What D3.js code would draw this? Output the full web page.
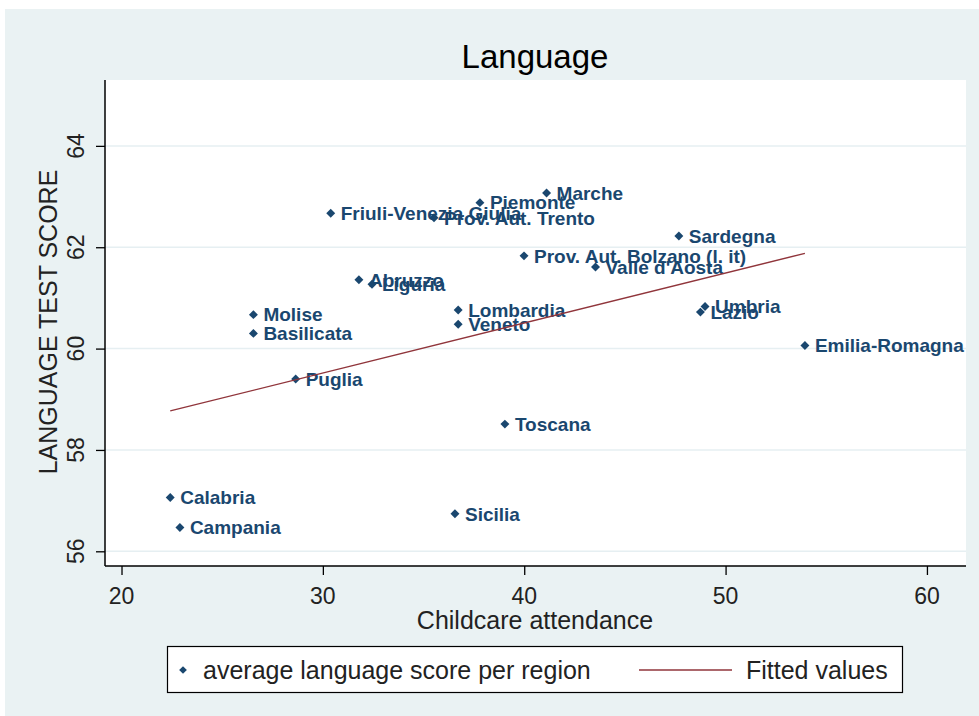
<!DOCTYPE html>
<html lang="en">
<head>
<meta charset="utf-8">
<script src="https://d3js.org/d3.v7.min.js"></script>
<style>
  body { margin: 0; background: #ffffff; }
  text { font-family: "Liberation Sans", Arial, sans-serif; }
</style>
</head>
<body>
<script>
// data
var regions = ["Piemonte", "Valle d'Aosta", "Lombardia", "Prov. Aut. Bolzano (l. it)", "Prov. Aut. Trento",
  "Veneto", "Friuli-Venezia Giulia", "Liguria", "Emilia-Romagna", "Toscana", "Umbria", "Marche",
  "Lazio", "Abruzzo", "Molise", "Campania", "Puglia", "Basilicata", "Calabria", "Sicilia", "Sardegna"];
var childcare = [37.80, 43.54, 36.72, 39.99, 35.52, 36.72, 30.39, 32.44, 53.94, 39.04, 48.98, 41.11,
  48.75, 31.79, 26.55, 22.90, 28.65, 26.55, 22.42, 36.56, 47.68];
var langScore = [62.88, 61.61, 60.76, 61.83, 62.58, 60.48, 62.67, 61.27, 60.06, 58.51, 60.83, 63.07,
  60.72, 61.36, 60.67, 56.47, 59.40, 60.30, 57.06, 56.74, 62.22];
// fitted values line (end points)
var fitX = [22.42, 53.94];
var fitY = [58.77, 61.88];
var xTicks = [20, 30, 40, 50, 60];
var yTicks = [56, 58, 60, 62, 64];

const W = 979, H = 716;
const navy = "#1a476f", maroon = "#90353b";
const plot = {left: 105, right: 966, top: 80, bottom: 566};

const svg = d3.select("body").append("svg")
  .attr("width", W).attr("height", H);

// outer background
svg.append("rect").attr("x", 5).attr("y", 9).attr("width", W - 5).attr("height", H - 9)
  .attr("fill", "#eaf2f3");
svg.append("rect").attr("x", plot.left).attr("y", plot.top)
  .attr("width", plot.right - plot.left).attr("height", plot.bottom - plot.top)
  .attr("fill", "#ffffff");

const x = d3.scaleLinear().domain([19.18, 61.94]).range([plot.left, plot.right]);
const y = d3.scaleLinear().domain([55.71, 65.30]).range([plot.bottom, plot.top]);

// gridlines
svg.append("g").selectAll("line").data(yTicks).enter().append("line")
  .attr("x1", plot.left).attr("x2", plot.right)
  .attr("y1", d => y(d)).attr("y2", d => y(d))
  .attr("stroke", "#e6eff2").attr("stroke-width", 1.5);

// axes
const yAxis = svg.append("g").attr("transform", "translate(" + plot.left + ",0)")
  .call(d3.axisLeft(y).tickValues(yTicks).tickSize(9).tickFormat(""));
const xAxis = svg.append("g").attr("transform", "translate(0," + plot.bottom + ")")
  .call(d3.axisBottom(x).tickValues(xTicks).tickSize(9).tickFormat(""));
[yAxis, xAxis].forEach(function(a) {
  a.selectAll("path").attr("stroke", "#000").attr("stroke-width", 1.5);
  a.selectAll("line").attr("stroke", "#000").attr("stroke-width", 1.3);
});
yAxis.select(".domain").attr("d", "M0," + plot.top + "V" + plot.bottom);
xAxis.select(".domain").attr("d", "M" + plot.left + ",0H" + plot.right);

// tick labels
svg.append("g").selectAll("text").data(xTicks).enter().append("text")
  .attr("x", d => x(d)).attr("y", 604)
  .attr("text-anchor", "middle").attr("font-size", 23).attr("fill", "#222")
  .text(d => d);
svg.append("g").selectAll("text").data(yTicks).enter().append("text")
  .attr("transform", d => "translate(84," + y(d) + ") rotate(-90)")
  .attr("text-anchor", "middle").attr("font-size", 23).attr("fill", "#222")
  .text(d => d);

// titles
svg.append("text").attr("x", 535).attr("y", 68).attr("text-anchor", "middle")
  .attr("font-size", 33).attr("fill", "#000").text("Language");
svg.append("text").attr("x", 535).attr("y", 629).attr("text-anchor", "middle")
  .attr("font-size", 25).attr("fill", "#222").text("Childcare attendance");
svg.append("text").attr("transform", "translate(57,322) rotate(-90)")
  .attr("text-anchor", "middle").attr("font-size", 25).attr("fill", "#222")
  .text("LANGUAGE TEST SCORE");

// points
var pts = regions.map(function(r, i) { return {name: r, cx: childcare[i], ly: langScore[i]}; });
const diamond = d3.symbol().type(d3.symbolSquare).size(40);
svg.append("g").selectAll("path").data(pts).enter().append("path")
  .attr("d", diamond)
  .attr("transform", d => "translate(" + x(d.cx) + "," + y(d.ly) + ") rotate(45)")
  .attr("fill", navy);
svg.append("g").selectAll("text").data(pts).enter().append("text")
  .attr("x", d => x(d.cx) + 10).attr("y", d => y(d.ly))
  .attr("dy", "0.36em").attr("font-size", 19).attr("font-weight", "bold")
  .attr("fill", navy).text(d => d.name);

// fitted line
svg.append("line")
  .attr("x1", x(fitX[0])).attr("y1", y(fitY[0]))
  .attr("x2", x(fitX[1])).attr("y2", y(fitY[1]))
  .attr("stroke", maroon).attr("stroke-width", 1.4);

// legend
const lg = svg.append("g");
lg.append("rect").attr("x", 167.5).attr("y", 646.5).attr("width", 735).attr("height", 46)
  .attr("fill", "#fff").attr("stroke", "#000").attr("stroke-width", 1.2);
lg.append("path").attr("d", d3.symbol().type(d3.symbolSquare).size(30))
  .attr("transform", "translate(183,670) rotate(45)").attr("fill", navy);
lg.append("text").attr("x", 203).attr("y", 679).attr("font-size", 25).attr("fill", "#222")
  .text("average language score per region");
lg.append("line").attr("x1", 639).attr("x2", 732).attr("y1", 670).attr("y2", 670)
  .attr("stroke", maroon).attr("stroke-width", 1.4);
lg.append("text").attr("x", 746).attr("y", 679).attr("font-size", 25).attr("fill", "#222")
  .text("Fitted values");
</script>
</body>
</html>
